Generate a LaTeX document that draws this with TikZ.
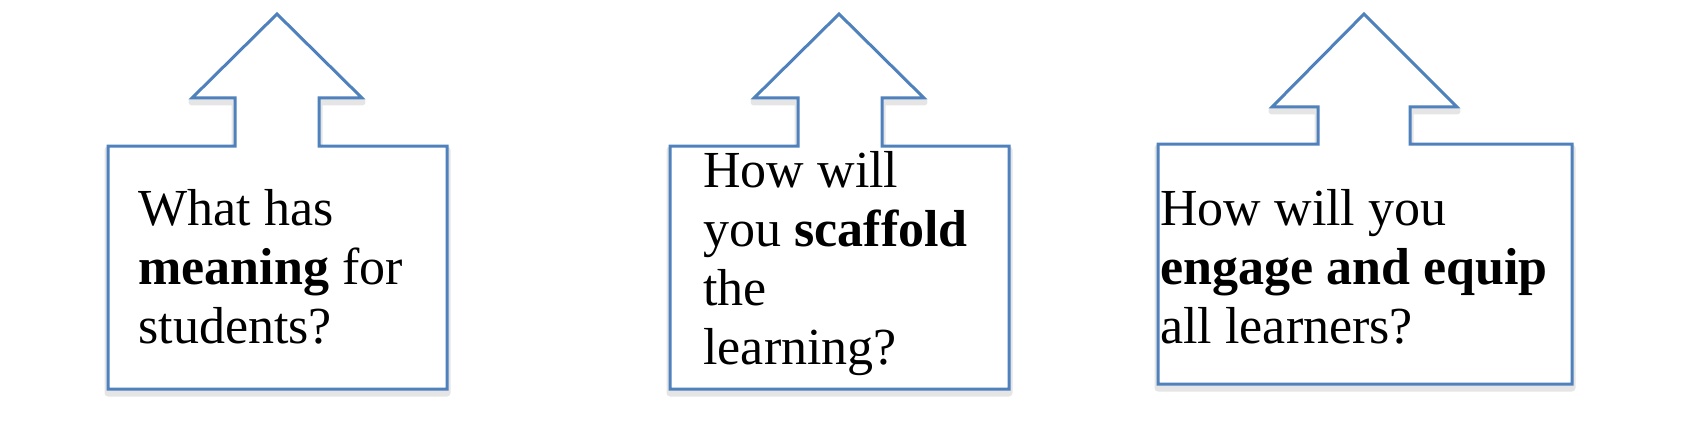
\documentclass[tikz,border=0pt]{standalone}
\usepackage{fontspec}
\setmainfont{Liberation Serif}
\usepackage{tikz}
\usetikzlibrary{positioning}

\definecolor{calloutblue}{RGB}{79,129,189}

\begin{document}
\begin{tikzpicture}[x=0.5pt,y=-0.5pt,
  callout/.style={draw=calloutblue,line width=1.5pt,line join=miter},
  shade/.style={draw=black!10,line width=3.5pt,yshift=-2pt,line join=round},
  question/.style={anchor=base west,inner sep=0pt,align=left,
    font=\fontsize{26}{29.5}\selectfont}]
\useasboundingbox (0,0) rectangle (1685,444);

\draw[shade] (108,146) -- (235,146) -- (235,98) -- (192,98) -- (277,14) -- (362,98) -- (319,98) -- (319,146) -- (447,146) -- (447,389) -- (108,389) -- cycle;
\draw[shade] (670,146) -- (798,146) -- (798,98) -- (754,98) -- (839,14) -- (924,98) -- (882,98) -- (882,146) -- (1009,146) -- (1009,389) -- (670,389) -- cycle;
\draw[shade] (1158,144) -- (1318,144) -- (1318,107) -- (1272,107) -- (1364,14) -- (1457,107) -- (1410,107) -- (1410,144) -- (1572,144) -- (1572,384) -- (1158,384) -- cycle;

\draw[callout,fill=white] (108,146) -- (235,146) -- (235,98) -- (192,98) -- (277,14) -- (362,98) -- (319,98) -- (319,146) -- (447,146) -- (447,389) -- (108,389) -- cycle;
\draw[callout,fill=white] (670,146) -- (798,146) -- (798,98) -- (754,98) -- (839,14) -- (924,98) -- (882,98) -- (882,146) -- (1009,146) -- (1009,389) -- (670,389) -- cycle;
\draw[callout,fill=white] (1158,144) -- (1318,144) -- (1318,107) -- (1272,107) -- (1364,14) -- (1457,107) -- (1410,107) -- (1410,144) -- (1572,144) -- (1572,384) -- (1158,384) -- cycle;

% anchor sits on the last line
\node[question] (meaning) at (138,343) {What has\\\textbf{meaning} for\\students?};
\node[question] (scaffold) at (703,364) {How will\\you \textbf{scaffold}\\the\\learning?};
\node[question] (engage) at (1160,343) {How will you\\\textbf{engage and equip}\\all learners?};
\end{tikzpicture}
\end{document}
